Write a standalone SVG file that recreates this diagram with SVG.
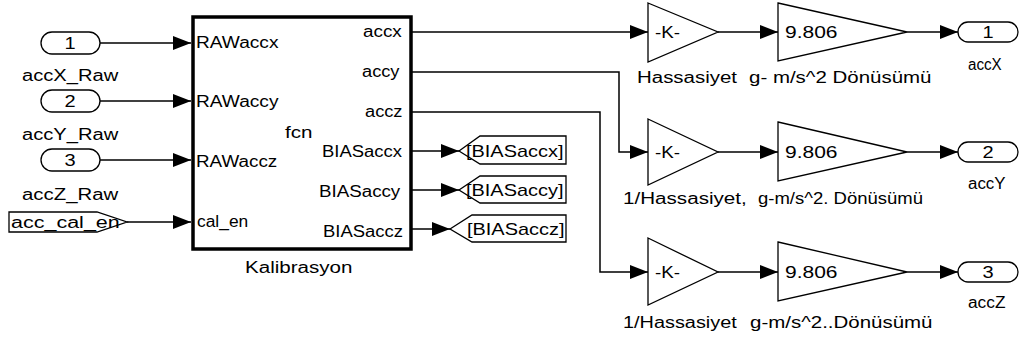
<svg xmlns="http://www.w3.org/2000/svg" width="1020" height="340" viewBox="0 0 1020 340">
<style>
text{font-family:"Liberation Sans",Arial,sans-serif;font-size:16px;fill:#000}
.port{fill:#fff;stroke:#000;stroke-width:1.3}
.blk{fill:#fff;stroke:#000;stroke-width:3.5}
.gain{fill:#fff;stroke:#000;stroke-width:1.3}
.goto{fill:#fff;stroke:#000;stroke-width:1.3}
.gt{font-size:17px}
.num{font-size:17px}
.c{text-anchor:middle}
.wire{fill:none;stroke:#000;stroke-width:1.5;marker-end:url(#ah)}
</style>
<defs>
<marker id="ah" viewBox="0 0 18 14" markerWidth="18" markerHeight="14" refX="18" refY="7" markerUnits="userSpaceOnUse" orient="auto">
<path d="M0,0 L18,7 L0,14 z" fill="#000"/>
</marker>
</defs>
<rect width="1020" height="340" fill="#fff"/>

<g id="connectors">
<path class="wire" d="M100,43 H191"/>
<path class="wire" d="M100,101 H191"/>
<path class="wire" d="M100,160 H191"/>
<path class="wire" d="M127,222 H191"/>
<path class="wire" d="M412,32 H648"/>
<path class="wire" d="M412,72 H619 V152 H648"/>
<path class="wire" d="M412,112 H600 V272 H648"/>
<path class="wire" d="M412,151 H459"/>
<path class="wire" d="M412,190 H459"/>
<path class="wire" d="M412,229 H450"/>
<path class="wire" d="M718,32 H778"/>
<path class="wire" d="M718,152 H778"/>
<path class="wire" d="M718,272 H778"/>
<path class="wire" d="M907,32 H958"/>
<path class="wire" d="M907,152 H958"/>
<path class="wire" d="M907,272 H958"/>
</g>

<g id="in1">
<rect class="port" x="41" y="32" width="59" height="22" rx="11"/>
<text class="c" transform="translate(70,49) scale(1.25,1)">1</text>
<text transform="translate(22,81) scale(1.25,1)" textLength="77" lengthAdjust="spacingAndGlyphs">accX_Raw</text>
</g>
<g id="in2">
<rect class="port" x="41" y="90" width="59" height="22" rx="11"/>
<text class="c" transform="translate(70,107) scale(1.25,1)">2</text>
<text transform="translate(22,140) scale(1.25,1)" textLength="77" lengthAdjust="spacingAndGlyphs">accY_Raw</text>
</g>
<g id="in3">
<rect class="port" x="41" y="149" width="59" height="22" rx="11"/>
<text class="c" transform="translate(70,166) scale(1.25,1)">3</text>
<text transform="translate(22,200) scale(1.25,1)" textLength="77" lengthAdjust="spacingAndGlyphs">accZ_Raw</text>
</g>
<g id="from_cal">
<polygon class="port" points="9,212 97,212 127,222 97,232 9,232"/>
<text transform="translate(11,228) scale(1.25,1)" textLength="87" lengthAdjust="spacingAndGlyphs">acc_cal_en</text>
</g>

<g id="kalibrasyon">
<rect class="blk" x="193" y="17" width="218" height="232"/>
<text transform="translate(196,48) scale(1.25,1)" textLength="66" lengthAdjust="spacingAndGlyphs">RAWaccx</text>
<text transform="translate(196,107) scale(1.25,1)" textLength="66" lengthAdjust="spacingAndGlyphs">RAWaccy</text>
<text transform="translate(196,167) scale(1.25,1)" textLength="65" lengthAdjust="spacingAndGlyphs">RAWaccz</text>
<text transform="translate(197,227) scale(1.25,1)" textLength="41" lengthAdjust="spacingAndGlyphs">cal_en</text>
<text transform="translate(363,37) scale(1.25,1)" textLength="31" lengthAdjust="spacingAndGlyphs">accx</text>
<text transform="translate(362,77) scale(1.25,1)" textLength="30" lengthAdjust="spacingAndGlyphs">accy</text>
<text transform="translate(365,117) scale(1.25,1)" textLength="30" lengthAdjust="spacingAndGlyphs">accz</text>
<text transform="translate(285,138) scale(1.25,1)" textLength="22" lengthAdjust="spacingAndGlyphs">fcn</text>
<text transform="translate(322,157) scale(1.25,1)" textLength="64" lengthAdjust="spacingAndGlyphs">BIASaccx</text>
<text transform="translate(319,197) scale(1.25,1)" textLength="65" lengthAdjust="spacingAndGlyphs">BIASaccy</text>
<text transform="translate(323,237) scale(1.25,1)" textLength="64" lengthAdjust="spacingAndGlyphs">BIASaccz</text>
<text transform="translate(245,273) scale(1.25,1)" textLength="86" lengthAdjust="spacingAndGlyphs">Kalibrasyon</text>
</g>

<g id="goto_x">
<polygon class="goto" points="459,151 480,136 566,136 566,164 480,164"/>
<text class="gt" transform="translate(466,157) scale(1.25,1)" textLength="78" lengthAdjust="spacingAndGlyphs">[BIASaccx]</text>
</g>
<g id="goto_y">
<polygon class="goto" points="459,190 480,176 566,176 566,203 480,203"/>
<text class="gt" transform="translate(466,196) scale(1.25,1)" textLength="78" lengthAdjust="spacingAndGlyphs">[BIASaccy]</text>
</g>
<g id="goto_z">
<polygon class="goto" points="450,229 472,215 566,215 566,242 472,242"/>
<text class="gt" transform="translate(467,235) scale(1.25,1)" textLength="78" lengthAdjust="spacingAndGlyphs">[BIASaccz]</text>
</g>

<g id="k1">
<polygon class="gain" points="648,3 718,32 648,62"/>
<text transform="translate(655,38) scale(1.25,1)" textLength="20" lengthAdjust="spacingAndGlyphs">-K-</text>
<text transform="translate(637,83) scale(1.25,1)" textLength="80" lengthAdjust="spacingAndGlyphs">Hassasiyet</text>
</g>
<g id="g1">
<polygon class="gain" points="778,3 907,32 778,61"/>
<text class="num" transform="translate(785,38) scale(1.25,1)" textLength="42" lengthAdjust="spacingAndGlyphs">9.806</text>
<text transform="translate(749,83) scale(1.25,1)" textLength="146" lengthAdjust="spacingAndGlyphs">g- m/s^2 Dönüsümü</text>
</g>
<g id="out1">
<rect class="port" x="958" y="22" width="60" height="20" rx="10"/>
<text class="c" transform="translate(988,38) scale(1.25,1)">1</text>
<text transform="translate(968,70) scale(1.25,1)" textLength="27" lengthAdjust="spacingAndGlyphs">accX</text>
</g>

<g id="k2">
<polygon class="gain" points="648,119 718,152 648,185"/>
<text transform="translate(655,158) scale(1.25,1)" textLength="20" lengthAdjust="spacingAndGlyphs">-K-</text>
<text transform="translate(623,204) scale(1.25,1)" textLength="99" lengthAdjust="spacingAndGlyphs">1/Hassasiyet,</text>
</g>
<g id="g2">
<polygon class="gain" points="778,122 907,152 778,181"/>
<text class="num" transform="translate(785,158) scale(1.25,1)" textLength="42" lengthAdjust="spacingAndGlyphs">9.806</text>
<text transform="translate(758,204) scale(1.25,1)" textLength="132" lengthAdjust="spacingAndGlyphs">g-m/s^2. Dönüsümü</text>
</g>
<g id="out2">
<rect class="port" x="958" y="142" width="60" height="20" rx="10"/>
<text class="c" transform="translate(988,158) scale(1.25,1)">2</text>
<text transform="translate(968,189) scale(1.25,1)" textLength="30" lengthAdjust="spacingAndGlyphs">accY</text>
</g>

<g id="k3">
<polygon class="gain" points="648,238 718,272 648,305"/>
<text transform="translate(655,278) scale(1.25,1)" textLength="20" lengthAdjust="spacingAndGlyphs">-K-</text>
<text transform="translate(623,328) scale(1.25,1)" textLength="91" lengthAdjust="spacingAndGlyphs">1/Hassasiyet</text>
</g>
<g id="g3">
<polygon class="gain" points="778,242 907,272 778,301"/>
<text class="num" transform="translate(785,278) scale(1.25,1)" textLength="42" lengthAdjust="spacingAndGlyphs">9.806</text>
<text transform="translate(750,328) scale(1.25,1)" textLength="146" lengthAdjust="spacingAndGlyphs">g-m/s^2..Dönüsümü</text>
</g>
<g id="out3">
<rect class="port" x="958" y="262" width="60" height="20" rx="10"/>
<text class="c" transform="translate(988,278) scale(1.25,1)">3</text>
<text transform="translate(968,308) scale(1.25,1)" textLength="30" lengthAdjust="spacingAndGlyphs">accZ</text>
</g>
</svg>
